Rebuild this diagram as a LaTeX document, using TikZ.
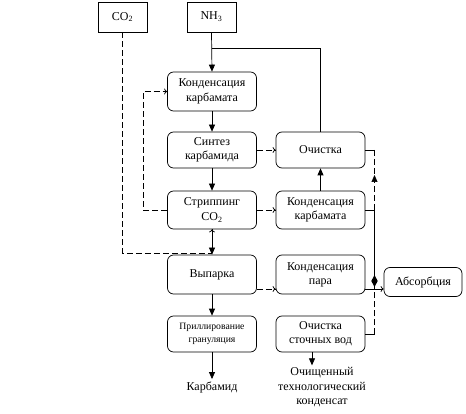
\documentclass[tikz,border=0pt]{standalone}
\usepackage{fontspec}
\setmainfont{Liberation Serif}
\usetikzlibrary{arrows.meta,calc}
\begin{document}
\begin{tikzpicture}[x=1pt,y=-1pt,line width=0.7pt,
  box/.style={draw,rounded corners=6pt,minimum width=89pt,inner sep=0pt,align=center,font=\fontsize{12}{14.3}\selectfont},
  sq/.style={draw,minimum width=49pt,minimum height=30pt,inner sep=0pt,font=\fontsize{12}{14}\selectfont},
  lbl/.style={inner sep=2pt,align=center,font=\fontsize{12}{14.5}\selectfont},
  arr/.style={-{Triangle[length=7pt,width=6pt]}},
  oarr/.style={-{To[length=3pt,width=6pt]}},
  dsh/.style={dash pattern=on 6pt off 3pt}]
\useasboundingbox (0,0) rectangle (466,414);

% top boxes
\node[sq] (co2) at (122.5,17) {CO\textsubscript{2}};
\node[sq] (nh3) at (211.5,17) {NH\textsubscript{3}};

% main column
\node[box,minimum height=39pt] (kk)  at (212,91.5) {Конденсация\\карбамата};
\node[box,minimum height=36pt] (sk)  at (212,150)  {Синтез\\карбамида};
\node[box,minimum height=38pt] (st)  at (212,210)  {Стриппинг\\CO\textsubscript{2}};
\node[box,minimum height=39pt] (vp)  at (212,274.5) {Выпарка};
\node[box,minimum height=36pt,font=\fontsize{9.7}{13}\selectfont] (pg) at (212,334) {Приллирование\\грануляция};
\node[lbl] (karb) at (212,387) {Карбамид};

% right column
\node[box,minimum height=36pt] (och) at (320.5,150)  {Очистка};
\node[box,minimum height=38pt] (kk2) at (320.5,210)  {Конденсация\\карбамата};
\node[box,minimum height=39pt] (kp)  at (320.5,274.5) {Конденсация\\пара};
\node[box,minimum height=36pt] (osv) at (320.5,334)  {Очистка\\сточных вод};
\node[lbl] (ok) at (322,387.5) {Очищенный\\технологический\\конденсат};
\node[draw,rounded corners=6pt,minimum width=78pt,minimum height=29pt,inner sep=0pt,font=\fontsize{12}{14}\selectfont] (abs) at (423,282) {Абсорбция};

% helper coordinates
\coordinate (j1) at (212,48);
\coordinate (cj) at (212,253);
\coordinate (ylev) at (0,289);
\coordinate (busx) at (374.5,0);
\coordinate (tipu) at (374.5,175);
\coordinate (ax) at (312,0);
\coordinate (b1) at (och.east -| busx);
\coordinate (b2) at (kk2.east -| busx);
\coordinate (b3) at (ylev -| busx);
\coordinate (b4) at (osv.east -| busx);
\coordinate (dm) at (374.5,281);

% NH3 flows
\draw[arr] (nh3.south) -- (kk.north);
\draw (j1) -| (och.north);

% CO2 flow
\draw[dsh] (co2.south) |- (cj);
\draw[oarr] (cj) -- (st.south);
\draw[arr] (st.south) -- (vp.north);

% main column arrows
\draw[arr] (kk.south) -- (sk.north);
\draw[arr] (sk.south) -- (st.north);
\draw[arr] (vp.south) -- (pg.north);
\draw[arr] (pg.south) -- (karb.north);

% recycle from stripping
\draw[dsh,oarr] (st.west) -- ++(-24,0) |- (kk.west);

% to right column
\draw[dsh,oarr] (sk.east) -- (och.west);
\draw[dsh,oarr] (st.east) -- (kk2.west);
\draw[dsh,oarr] (vp.east |- ylev) -- (kp.west |- ylev);
\draw[arr] (kk2.north) -- (och.south);
\draw[arr] (ax |- osv.south) -- (ax |- ok.north);

% right bus
\draw (och.east) -- (b1);
\draw[dsh] (b1) -- (b2);
\draw[arr] ($(tipu)+(0,3)$) -- (tipu);
\draw (kk2.east) -- (b2);
\draw (b2) -- (b3);
\draw (kp.east |- ylev) -- (b3);
\draw[oarr] (b3) -- (abs.west |- b3);
\draw (osv.east) -- (b4);
\draw[dsh] (b4) -- (b3);
\fill ($(dm)+(0,-6)$) -- ($(dm)+(3.2,0)$) -- ($(dm)+(0,6)$) -- ($(dm)+(-3.2,0)$) -- cycle;
\end{tikzpicture}
\end{document}
